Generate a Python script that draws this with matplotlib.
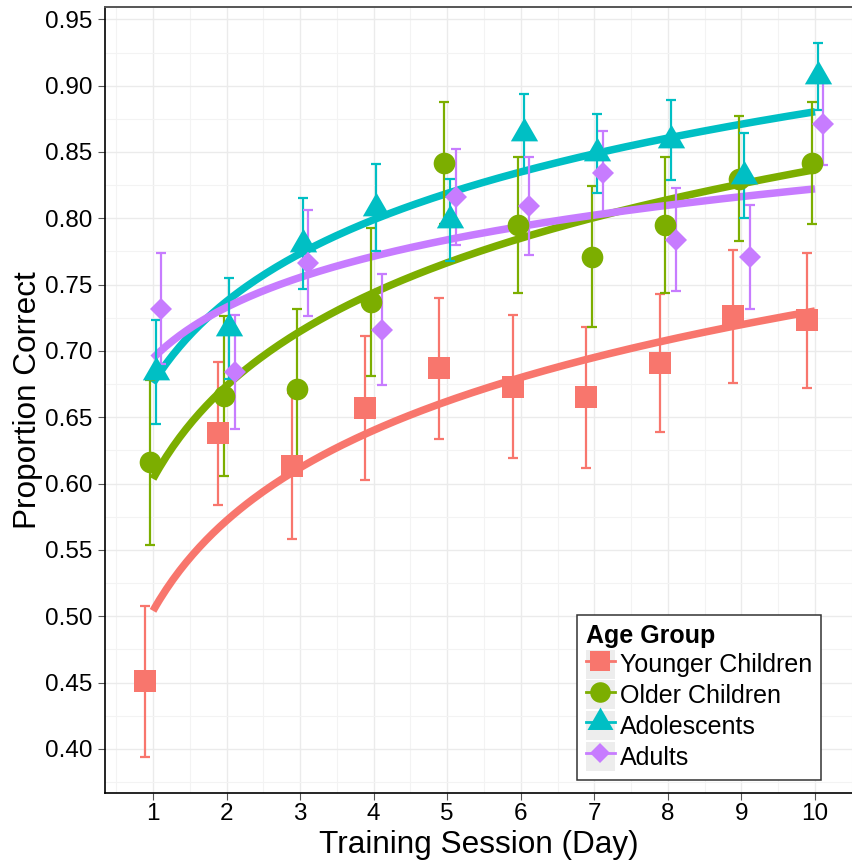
"""
Proportion correct across ten training sessions, by age group.

Points are session means with error bars; the thick curves are
log-linear fits (y ~ log(day)) to each group's means.
"""

import matplotlib
matplotlib.use("Agg")
import matplotlib.pyplot as plt
import numpy as np
from matplotlib.legend_handler import HandlerTuple
from matplotlib.lines import Line2D
from matplotlib.patches import Rectangle
from matplotlib.ticker import FormatStrFormatter, MultipleLocator

plt.rcParams["font.family"] = ["Liberation Sans", "DejaVu Sans"]

DAYS = np.arange(1, 11)
GROUPS = ["Younger Children", "Older Children", "Adolescents", "Adults"]
COLORS = ["#F8766D", "#7CAE00", "#00BFC4", "#C77CFF"]

YOUNGER_MEAN = [0.451, 0.638, 0.613, 0.657, 0.687, 0.673, 0.665, 0.691, 0.726, 0.723]
YOUNGER_ERR = [0.057, 0.054, 0.055, 0.054, 0.053, 0.054, 0.053, 0.052, 0.050, 0.051]

OLDER_MEAN = [0.616, 0.666, 0.671, 0.737, 0.842, 0.795, 0.771, 0.795, 0.830, 0.842]
OLDER_ERR = [0.062, 0.060, 0.061, 0.056, 0.046, 0.051, 0.053, 0.051, 0.047, 0.046]

ADOLESCENT_MEAN = [0.684, 0.717, 0.781, 0.808, 0.799, 0.864, 0.849, 0.859, 0.832, 0.907]
ADOLESCENT_ERR = [0.039, 0.038, 0.034, 0.033, 0.031, 0.030, 0.030, 0.030, 0.032, 0.025]

ADULT_MEAN = [0.732, 0.684, 0.766, 0.716, 0.816, 0.809, 0.834, 0.784, 0.771, 0.871]
ADULT_ERR = [0.042, 0.043, 0.040, 0.042, 0.036, 0.037, 0.032, 0.039, 0.039, 0.031]

MEANS = [YOUNGER_MEAN, OLDER_MEAN, ADOLESCENT_MEAN, ADULT_MEAN]
ERRS = [YOUNGER_ERR, OLDER_ERR, ADOLESCENT_ERR, ADULT_ERR]

# equilateral triangle centred on its centroid (like R's pch 17)
TRIANGLE = [(-1.0, -0.577), (1.0, -0.577), (0.0, 1.155)]
MARKERS = ["s", "o", TRIANGLE, "D"]
MARKER_SIZES = [15.6, 15.6, 22.7, 11.2]
DODGE = [-0.1125, -0.0375, 0.0375, 0.1125]


def style_axes(ax):
    ax.set_xlim(0.347, 10.503)
    ax.set_ylim(0.3668, 0.9593)
    ax.xaxis.set_major_locator(MultipleLocator(1))
    ax.xaxis.set_minor_locator(MultipleLocator(0.5))
    ax.yaxis.set_major_locator(MultipleLocator(0.05))
    ax.yaxis.set_minor_locator(MultipleLocator(0.025))
    ax.yaxis.set_major_formatter(FormatStrFormatter("%.2f"))

    ax.grid(which="major", color="#ebebeb", linewidth=1.0, zorder=0)
    ax.grid(which="minor", color="#f3f3f3", linewidth=0.8, zorder=0)
    ax.set_axisbelow(True)

    ax.spines["right"].set_visible(False)
    ax.spines["top"].set_color("#555555")
    ax.spines["top"].set_linewidth(1.4)
    for side in ("left", "bottom"):
        ax.spines[side].set_color("black")
        ax.spines[side].set_linewidth(1.2)

    ax.tick_params(which="major", direction="out", length=5, width=0.8,
                   color="#555555", labelsize=17.5, labelcolor="black")
    ax.tick_params(axis="x", pad=2.5)
    ax.tick_params(axis="y", pad=4)
    ax.tick_params(which="minor", length=0)

    ax.set_xlabel("Training Session (Day)", fontsize=22.7)
    ax.set_ylabel("Proportion Correct", fontsize=22.7)
    ax.xaxis.set_label_coords(0.5, -0.047)
    ax.yaxis.set_label_coords(-0.083, 0.5)


def main():
    fig = plt.figure(figsize=(8.52, 8.66), dpi=100)
    ax = fig.add_axes([105 / 852, 73 / 866, 747 / 852, 786 / 866])

    curve_x = np.linspace(1, 10, 200)
    handles = []
    for name, color, marker, ms, dx, mean, err in zip(
        GROUPS, COLORS, MARKERS, MARKER_SIZES, DODGE, MEANS, ERRS
    ):
        slope, intercept = np.polyfit(np.log(DAYS), mean, 1)
        ax.plot(curve_x, intercept + slope * np.log(curve_x),
                color=color, linewidth=5.4, solid_capstyle="butt", zorder=2)

        ax.errorbar(DAYS + dx, mean, yerr=err, fmt="none", ecolor=color,
                    elinewidth=1.6, capsize=3.3, capthick=1.6, zorder=3)
        ax.plot(DAYS + dx, mean, linestyle="none", marker=marker,
                markersize=ms, color=color, markeredgewidth=0, zorder=4)

        key_bg = Rectangle((0, 0), 1, 1, facecolor="#ededed", edgecolor="none")
        key_mark = Line2D([], [], color=color, linewidth=2.0, marker=marker,
                          markersize=ms * 0.95, markeredgewidth=0)
        handles.append((key_bg, key_mark))

    style_axes(ax)

    leg = ax.legend(
        handles, GROUPS,
        handler_map={tuple: HandlerTuple(ndivide=1, pad=0)},
        title="Age Group",
        loc="upper left",
        bbox_to_anchor=(577 / 852, 1 - 615 / 866),
        bbox_transform=fig.transFigure,
        borderaxespad=0,
        fontsize=18,
        title_fontproperties={"weight": "bold", "size": 18},
        alignment="left",
        handlelength=1.16,
        handleheight=1.41,
        handletextpad=0.2,
        labelspacing=0.07,
        borderpad=0.35,
        fancybox=False,
        framealpha=1,
        edgecolor="#333333",
    )
    leg.get_frame().set_linewidth(1.1)

    fig.savefig("out.png", dpi=100)
    plt.close(fig)


if __name__ == "__main__":
    main()
